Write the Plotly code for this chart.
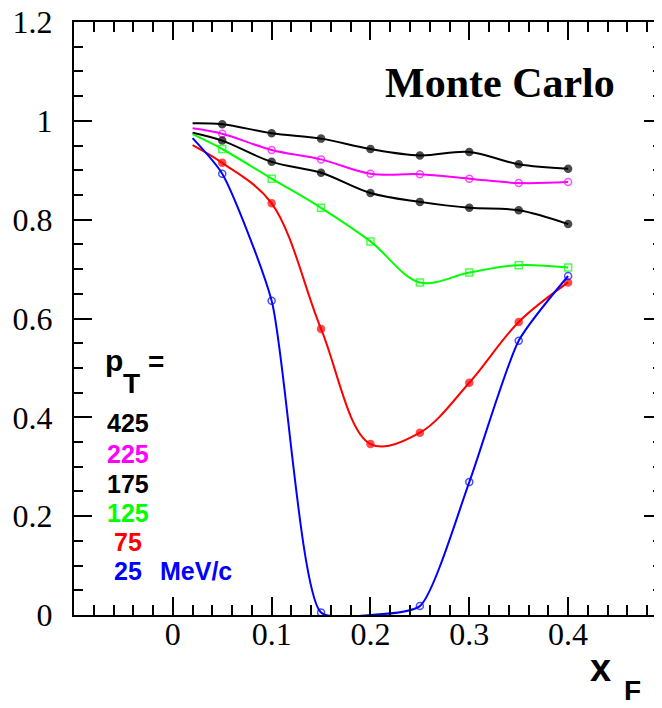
import plotly.graph_objects as go

# ---- data ----
x_f = [0.02, 0.05, 0.10, 0.15, 0.20, 0.25, 0.30, 0.35, 0.40]

pt_labels = ["425", "225", "175", "125", "75", "25"]
pt_colors = ["#000000", "#ff00ff", "#000000", "#00ff00", "#ff0000", "#0000ff"]
pt_symbols = ["circle", "circle-open", "circle", "square-open", "circle", "circle-open"]

y_425 = [0.995, 0.993, 0.975, 0.964, 0.943, 0.930, 0.937, 0.912, 0.903]
y_225 = [0.985, 0.974, 0.941, 0.922, 0.893, 0.892, 0.883, 0.874, 0.876]
y_175 = [0.976, 0.960, 0.917, 0.895, 0.854, 0.836, 0.824, 0.819, 0.791]
y_125 = [0.973, 0.943, 0.883, 0.824, 0.756, 0.673, 0.693, 0.708, 0.703]
y_75 = [0.951, 0.915, 0.833, 0.579, 0.346, 0.369, 0.470, 0.593, 0.673]
y_25 = [0.965, 0.893, 0.636, 0.005, 0.000, 0.018, 0.269, 0.555, 0.686]

series = [y_425, y_225, y_175, y_125, y_75, y_25]
smooth = [1.0, 1.0, 1.0, 1.0, 1.0, 0.6]

x_ticks = [0, 0.1, 0.2, 0.3, 0.4]
y_ticks = [0, 0.2, 0.4, 0.6, 0.8, 1.0, 1.2]

fig = go.Figure()
for i, ys in enumerate(series):
    sizes = [0] + [7] * (len(ys) - 1)
    if pt_labels[i] == "25":
        sizes[4] = 0
    fig.add_trace(go.Scatter(
        x=x_f, y=ys, mode="lines+markers",
        line=dict(color=pt_colors[i], width=2, shape="spline", smoothing=smooth[i]),
        marker=dict(symbol=pt_symbols[i], size=sizes, color=pt_colors[i],
                    line=dict(color=pt_colors[i], width=1.5)),
        showlegend=False,
    ))

axis_common = dict(
    showline=True, linecolor="black", linewidth=2, mirror="allticks",
    ticks="inside", ticklen=18, tickwidth=2, tickcolor="black",
    showgrid=False, zeroline=False, automargin=False,
    ticklabeloverflow="allow",
    tickfont=dict(family="Liberation Serif", size=32, color="black"),
)

fig.update_xaxes(range=[-0.1, 0.495], tickvals=x_ticks,
                 ticktext=["0", "0.1", "0.2", "0.3", "0.4"],
                 minor=dict(ticks="inside", ticklen=10, tickwidth=2, tickcolor="black", dtick=0.02, tick0=0),
                 ticklabelstandoff=-10, **axis_common)
fig.update_yaxes(range=[0, 1.2], tickvals=y_ticks,
                 ticktext=["0", "0.2", "0.4", "0.6", "0.8", "1", "1.2"],
                 minor=dict(ticks="inside", ticklen=9, tickwidth=2, tickcolor="black", dtick=0.05, tick0=0),
                 ticklabelstandoff=13, **axis_common)

# page body margin offset (px)
OFF = 8
W, H = 662 - OFF, 708 - OFF
L, T = 74 - OFF, 22 - OFF
PW, PH = 588, 593
def px(X):
    return (X - OFF - L) / PW
def py(Y):
    return (T + PH - (Y - OFF)) / PH

ann = []
ann.append(dict(text="<b>Monte Carlo</b>", x=px(500), y=py(83), xref="paper", yref="paper",
                showarrow=False, xanchor="center", yanchor="middle",
                font=dict(family="Liberation Serif", size=42, color="black")))
sans = "Liberation Sans"
ann.append(dict(text="<b>p</b>", x=px(103), y=py(360), xref="paper", yref="paper",
                showarrow=False, xanchor="left", yanchor="middle",
                font=dict(family=sans, size=30, color="black")))
ann.append(dict(text="<b>T</b>", x=px(131), y=py(384), xref="paper", yref="paper",
                showarrow=False, xanchor="center", yanchor="middle",
                font=dict(family=sans, size=28, color="black")))
ann.append(dict(text="<b>=</b>", x=px(156), y=py(362), xref="paper", yref="paper",
                showarrow=False, xanchor="center", yanchor="middle",
                font=dict(family=sans, size=28, color="black")))
label_y = [423, 454, 484, 513, 542, 571]
for lab, col, yy in zip(pt_labels, pt_colors, label_y):
    ann.append(dict(text="<b>" + lab + "</b>", x=px(128), y=py(yy), xref="paper", yref="paper",
                    showarrow=False, xanchor="center", yanchor="middle",
                    font=dict(family=sans, size=25, color=col)))
ann.append(dict(text="<b>MeV/c</b>", x=px(158), y=py(571), xref="paper", yref="paper",
                showarrow=False, xanchor="left", yanchor="middle",
                font=dict(family=sans, size=25, color="#0000ff")))
ann.append(dict(text="<b>x</b>", x=px(600), y=py(668), xref="paper", yref="paper",
                showarrow=False, xanchor="center", yanchor="middle",
                font=dict(family=sans, size=38, color="black")))
ann.append(dict(text="<b>F</b>", x=px(632), y=py(690), xref="paper", yref="paper",
                showarrow=False, xanchor="center", yanchor="middle",
                font=dict(family=sans, size=28, color="black")))

fig.update_layout(
    width=W, height=H,
    margin=dict(l=L, r=W - L - PW, t=T, b=H - T - PH, pad=0),
    paper_bgcolor="white", plot_bgcolor="white",
    annotations=ann,
)

fig.write_html("out.html")
